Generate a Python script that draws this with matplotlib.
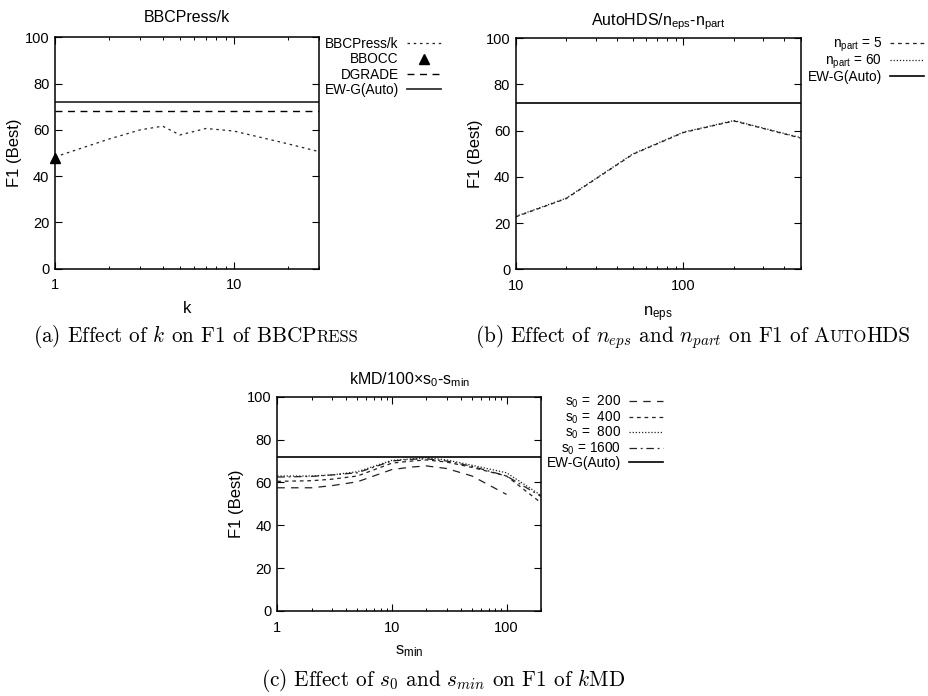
import matplotlib
matplotlib.use("Agg")
import matplotlib.pyplot as plt
from matplotlib.ticker import FixedLocator, FixedFormatter, LogLocator, NullFormatter

plt.rcParams['font.family'] = ['Liberation Sans', 'DejaVu Sans']
plt.rcParams['mathtext.fontset'] = 'custom'
plt.rcParams['mathtext.rm'] = 'Liberation Sans'
plt.rcParams['mathtext.it'] = 'Liberation Sans'
plt.rcParams['mathtext.bf'] = 'Liberation Sans:bold'

# (a) BBCPress vs k
k_vals = [1, 2, 3, 4, 5, 7, 10, 20, 30]
bbc_f1 = [48.3, 56, 60, 61.6, 57.8, 60.6, 59.5, 54, 50.6]
bbocc_k = [1]
bbocc_f1 = [48]
dgrade_f1 = 68
ewg_f1 = 72

# (b) AutoHDS vs n_eps
neps_vals = [10, 20, 50, 100, 200, 500]
npart5_f1 = [22.7, 30.6, 49.8, 59.2, 64.2, 56.8]
npart60_f1 = [22.9, 30.8, 50.0, 59.4, 64.4, 57.0]

# (c) kMD vs s_min
smin_vals = [1, 2, 3, 5, 10, 15, 20, 30, 50, 100, 200]
s0_200 = [57.5, 57.5, 58.5, 60.3, 66, 67.2, 67.7, 66.5, 63, 54.4]
s0_400 = [60.5, 60.8, 61.5, 63, 69, 70, 70.5, 69.5, 67, 63, 50.5]
s0_800 = [63, 63, 63.5, 65, 70.3, 71, 71.5, 70.5, 68, 64.5, 54]
s0_1600 = [62.5, 62.8, 63.5, 64.5, 70, 70.8, 71, 70, 67.5, 63, 53.5]

W, H = 929, 696
fig = plt.figure(figsize=(W / 100, H / 100), dpi=100)


def px_axes(left, top, right, bottom):
    return fig.add_axes([left / W, 1 - bottom / H, (right - left) / W, (bottom - top) / H])


def style_axes(ax, xmin, xmax, major, labels):
    ax.set_xscale('log')
    ax.set_xlim(xmin, xmax)
    ax.set_ylim(0, 100)
    ax.set_yticks([0, 20, 40, 60, 80, 100])
    ax.xaxis.set_major_locator(FixedLocator(major))
    ax.xaxis.set_major_formatter(FixedFormatter(labels))
    ax.xaxis.set_minor_locator(LogLocator(base=10, subs=range(2, 10)))
    ax.xaxis.set_minor_formatter(NullFormatter())
    ax.tick_params(which='both', direction='in', top=True, right=True, labelsize=10.5)
    ax.tick_params(which='major', length=5, width=0.8)
    ax.tick_params(which='minor', length=2.5, width=0.7)
    ax.tick_params(axis='x', pad=7)
    ax.tick_params(axis='y', pad=4)
    for s in ax.spines.values():
        s.set_linewidth(1.1)
    ax.set_ylabel('F1 (Best)', fontsize=12, labelpad=2)


def legend(ax, right, top, spacing=0.05):
    return ax.legend(loc='upper right', bbox_to_anchor=(right / W, 1 - top / H),
                     bbox_transform=fig.transFigure, frameon=False, markerfirst=False,
                     fontsize=9.8, handlelength=2.5, handletextpad=0.6,
                     labelspacing=spacing, borderpad=0, borderaxespad=0)


lc = '#222222'

# ---- (a)
ax1 = px_axes(55, 37.3, 319, 268.7)
ax1.plot(k_vals, bbc_f1, color=lc, lw=0.9, dashes=(2, 3), label='BBCPress/k')
ax1.plot(bbocc_k, bbocc_f1, '^', color='black', ms=7, clip_on=False, linestyle='none', label='BBOCC')
ax1.axhline(dgrade_f1, color='black', lw=1.0, dashes=(5, 4), label='DGRADE')
ax1.axhline(ewg_f1, color='#333333', lw=1.3, label='EW-G(Auto)')
style_axes(ax1, 1, 30, [1, 10], ['1', '10'])
ax1.set_xlabel('k', fontsize=12, labelpad=6)
ax1.set_title('BBCPress/k', fontsize=11.5, pad=11)
legend(ax1, 441, 37, spacing=0.1)

# ---- (b)
ax2 = px_axes(515.7, 38.3, 800.7, 269.3)
ax2.plot(neps_vals, npart5_f1, color=lc, lw=0.9, dashes=(3, 3), label='n$_{part}$ = 5')
ax2.plot(neps_vals, npart60_f1, color=lc, lw=0.9, dashes=(1, 1.5), label='n$_{part}$ = 60')
ax2.axhline(ewg_f1, color='black', lw=1.2, label='EW-G(Auto)')
style_axes(ax2, 10, 500, [10, 100], ['10', '100'])
ax2.set_xlabel('n$_{eps}$', fontsize=12, labelpad=8)
ax2.set_title('AutoHDS/n$_{eps}$-n$_{part}$', fontsize=11.5, pad=9)
legend(ax2, 924, 36, spacing=-0.1)

# ---- (c)
ax3 = px_axes(277.3, 396.7, 541, 611)
ax3.plot(smin_vals[:len(s0_200)], s0_200, color=lc, lw=0.9, dashes=(6, 5), label='s$_0$ =  200')
ax3.plot(smin_vals, s0_400, color=lc, lw=0.9, dashes=(3, 3), label='s$_0$ =  400')
ax3.plot(smin_vals, s0_800, color=lc, lw=0.9, dashes=(1, 1.5), label='s$_0$ =  800')
ax3.plot(smin_vals, s0_1600, color=lc, lw=0.9, dashes=(6, 3, 1.5, 3), label='s$_0$ = 1600')
ax3.axhline(ewg_f1, color='black', lw=1.2, label='EW-G(Auto)')
style_axes(ax3, 1, 200, [1, 10, 100], ['1', '10', '100'])
ax3.set_xlabel('s$_{min}$', fontsize=12, labelpad=6)
ax3.set_title('kMD/100\u00d7s$_0$-s$_{min}$', fontsize=11.5, pad=9)
legend(ax3, 663, 394, spacing=-0.07)


# ---- captions (Computer Modern look, small caps faked with smaller text)
def caption(cx, y, parts, size=15.3):
    r = fig.canvas.get_renderer()
    texts = []
    for s, scale in parts:
        t = fig.text(0, 1 - y / H, s, fontsize=size * scale, family='cmr10',
                     math_fontfamily='cm', va='baseline', ha='left')
        texts.append(t)
    widths = [t.get_window_extent(renderer=r).width - 0.08 * size for t in texts]
    x = cx - sum(widths) / 2
    for t, w in zip(texts, widths):
        t.set_x(x / W)
        x += w


sc = 0.78
caption(195, 342, [('(a) Effect of $k$ on F1 of BBCP', 1), ('RESS', sc)])
caption(692, 342, [('(b) Effect of $n_{eps}$ and $n_{part}$ on F1 of A', 1), ('UTO', sc), ('HDS', 1)])
caption(442, 686, [('(c) Effect of $s_0$ and $s_{min}$ on F1 of $k$MD', 1)])

fig.savefig('out.png', dpi=100)
